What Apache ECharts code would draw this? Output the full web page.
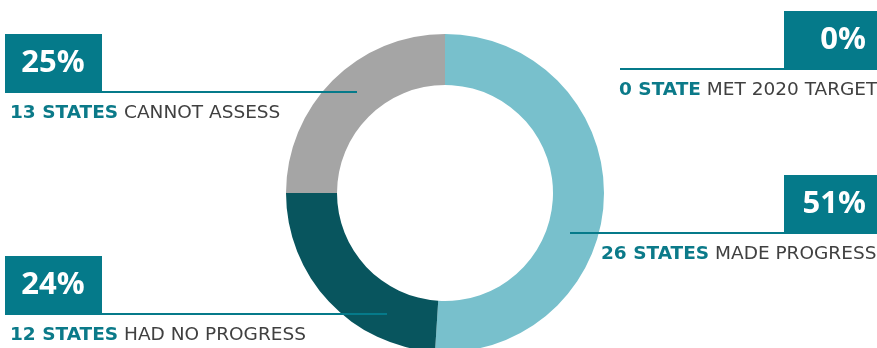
<!DOCTYPE html>
<html>
<head>
<meta charset="utf-8">
<script src="https://cdn.jsdelivr.net/npm/echarts@6/dist/echarts.min.js"></script>
<style>
    html, body { margin: 0; padding: 0; background: #fff; }
    #chart { width: 877px; height: 348px; }
</style>
</head>
<body>
<div id="chart"></div>
<script>
// data, clockwise from 12 o'clock
const categories = ['MET 2020 TARGET', 'MADE PROGRESS', 'HAD NO PROGRESS', 'CANNOT ASSESS']
const percentShares = [0, 51, 24, 25]
const countLabels = ['0 STATE', '26 STATES', '12 STATES', '13 STATES']
const sliceColors = ['#047a8a', '#78c0cc', '#08555e', '#a5a5a5']

// where each callout sits
const calloutLayout = [
    { side: 'right', top: 11, lineEnd: 620, textX: 619 },
    { side: 'right', top: 175, lineEnd: 570, textX: 601 },
    { side: 'left', top: 256, lineEnd: 387, textX: 10 },
    { side: 'left', top: 34, lineEnd: 357, textX: 10 }
]

const teal = '#057a8a'
const font = '"Open Sans", "Noto Sans", sans-serif'
const captionFont = '"DejaVu Sans", sans-serif'

let myChart = echarts.init(document.getElementById('chart'))

let graphics = []
calloutLayout.forEach((c, i) => {
    let left = c.side == 'left'
    let boxX = left ? 5 : 784
    let boxW = left ? 97 : 100
    graphics.push({
        type: 'rect',
        z: 100,
        shape: { x: boxX, y: c.top, width: boxW, height: 57 },
        style: { fill: teal }
    })
    graphics.push({
        type: 'line',
        z: 100,
        shape: {
            x1: left ? 5 : c.lineEnd,
            y1: c.top + 58,
            x2: left ? c.lineEnd : 877,
            y2: c.top + 58
        },
        style: { stroke: teal, lineWidth: 2 }
    })
    graphics.push({
        type: 'text',
        z: 101,
        x: left ? boxX + 48 : 866,
        y: c.top + 29,
        style: {
            text: percentShares[i] + '%',
            fill: '#fff',
            font: 'bold 31px ' + font,
            textAlign: left ? 'center' : 'right',
            textVerticalAlign: 'middle'
        }
    })
    graphics.push({
        type: 'text',
        z: 101,
        x: c.textX,
        y: c.top + 79,
        style: {
            text: '{b|' + countLabels[i] + '} {r|' + categories[i] + '}',
            textAlign: 'left',
            textVerticalAlign: 'middle',
            rich: {
                b: { fontFamily: captionFont, fontSize: 18.5, fontWeight: 'bold', fill: '#0b7a89' },
                r: { fontFamily: captionFont, fontSize: 18.5, fill: '#404040' }
            },
            fontFamily: captionFont,
            fontSize: 18.5
        }
    })
})

let option = {
    animation: false,
    backgroundColor: '#fff',
    series: [
        {
            type: 'pie',
            center: [445, 193],
            radius: [108, 159],
            startAngle: 90,
            clockwise: true,
            minAngle: 0,
            avoidLabelOverlap: false,
            label: { show: false },
            labelLine: { show: false },
            itemStyle: { borderWidth: 0 },
            emphasis: { disabled: true },
            data: percentShares.map((v, i) => ({
                name: categories[i],
                value: v,
                itemStyle: { color: sliceColors[i] }
            }))
        }
    ],
    graphic: graphics
}

option && myChart.setOption(option)
</script>
</body>
</html>
